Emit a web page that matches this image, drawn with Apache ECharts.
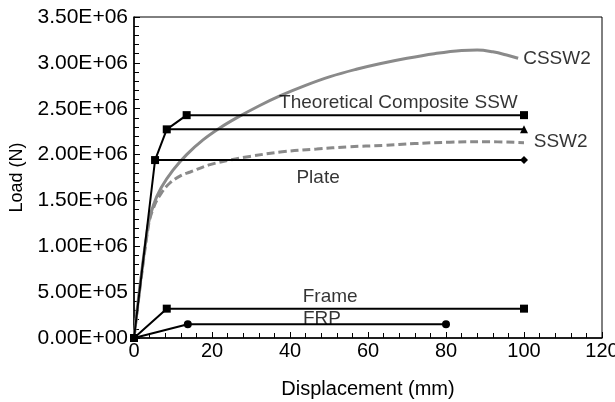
<!DOCTYPE html>
<html>
<head>
<meta charset="utf-8">
<script src="https://cdn.jsdelivr.net/npm/echarts@6/dist/echarts.min.js"></script>
<style>
  html, body { margin: 0; padding: 0; background: #fff; }
  #chart { width: 615px; height: 402px; }
</style>
</head>
<body>
<div id="chart"></div>
<script>
// 曲线数据
const cssw2X = [0, 3.5, 5, 7, 10, 13.5, 17.7, 22, 26.3, 32, 37.4, 44, 50.3, 57, 63, 70, 77, 84, 88, 92, 96, 98.5];
const cssw2Y = [0, 1.2e6, 1.45e6, 1.64e6, 1.83e6, 2.0e6, 2.16e6, 2.29e6, 2.4e6, 2.53e6, 2.64e6, 2.755e6, 2.85e6, 2.93e6, 2.99e6, 3.05e6, 3.1e6, 3.135e6, 3.14e6, 3.12e6, 3.08e6, 3.05e6];
const ssw2X = [0, 3.6, 5, 7, 9.2, 12, 14.4, 19.5, 24.6, 29.7, 38, 46.8, 55, 63.9, 72, 81, 90, 100];
const ssw2Y = [0, 1.2e6, 1.42e6, 1.58e6, 1.69e6, 1.77e6, 1.81e6, 1.89e6, 1.94e6, 1.98e6, 2.03e6, 2.06e6, 2.085e6, 2.1e6, 2.12e6, 2.135e6, 2.14e6, 2.13e6];

// 理论折线
const plateX = [0, 5.4, 100];
const plateY = [0, 1.94e6, 1.94e6];
const midX = [5.4, 8.4, 100];
const midY = [1.94e6, 2.275e6, 2.275e6];
const compositeX = [8.4, 13.5, 100];
const compositeY = [2.275e6, 2.43e6, 2.43e6];
const frameX = [0, 8.4, 100];
const frameY = [0, 3.2e5, 3.2e5];
const frpX = [0, 13.8, 80];
const frpY = [0, 1.5e5, 1.5e5];

// 坐标轴刻度
const xTicks = [0, 20, 40, 60, 80, 100, 120];
const yTicks = [0, 5e5, 1e6, 1.5e6, 2e6, 2.5e6, 3e6, 3.5e6];

// 标注文字
const noteNames = ['CSSW2', 'SSW2', 'Theoretical Composite SSW', 'Plate', 'Frame', 'FRP'];
const noteX = [99.8, 102.5, 67.8, 47.2, 50.3, 48.2];
const noteY = [3.05e6, 2.14e6, 2.57e6, 1.75e6, 4.45e5, 2.1e5];
const noteAlign = ['left', 'left', 'center', 'center', 'center', 'center'];

const FONT = '"Liberation Sans", Arial, sans-serif';

function zip(xs, ys) {
    return xs.map((x, i) => [x, ys[i]]);
}

// 每个点的标记
function withSymbols(xs, ys, symbols) {
    return xs.map((x, i) => ({
        value: [x, ys[i]],
        symbol: symbols[i] || 'none'
    }));
}

function sci(v) {
    if (v === 0) return '0.00E+00';
    const e = Math.floor(Math.log10(v) + 1e-9);
    const m = v / Math.pow(10, e);
    return m.toFixed(2) + 'E+' + String(e).padStart(2, '0');
}

const chart = echarts.init(document.getElementById('chart'));

function blackLine(name, xs, ys, symbols, size) {
    return {
        name: name,
        type: 'line',
        data: withSymbols(xs, ys, symbols),
        symbolSize: size || 8,
        showSymbol: true,
        lineStyle: { color: '#000', width: 2 },
        itemStyle: { color: '#000' },
        z: 5,
        animation: false
    };
}

const option = {
    animation: false,
    backgroundColor: '#fff',
    textStyle: { fontFamily: FONT },
    grid: {
        left: 134, right: 13, top: 17, bottom: 64,
        outerBoundsMode: 'none',
        containLabel: false,
        show: true, borderColor: '#000', borderWidth: 1
    },
    xAxis: {
        type: 'value',
        min: xTicks[0], max: xTicks[xTicks.length - 1], interval: 20,
        name: 'Displacement (mm)',
        nameLocation: 'middle',
        nameGap: 41,
        nameTextStyle: { color: '#000', fontSize: 20, fontFamily: FONT },
        axisLine: { show: true, lineStyle: { color: '#000', width: 1.5 } },
        axisTick: { show: true, inside: true, length: 6, lineStyle: { color: '#000' } },
        minorTick: { show: true, splitNumber: 5, length: 5, lineStyle: { color: '#000' } },
        splitLine: { show: false },
        axisLabel: { color: '#000', fontSize: 20, margin: 3, fontFamily: FONT }
    },
    yAxis: {
        type: 'value',
        min: yTicks[0], max: yTicks[yTicks.length - 1], interval: 5e5,
        name: 'Load (N)',
        nameLocation: 'middle',
        nameGap: 108,
        nameTextStyle: { color: '#000', fontSize: 18, fontFamily: FONT },
        axisLine: { show: true, lineStyle: { color: '#000', width: 1.5 } },
        axisTick: { show: true, inside: true, length: 6, lineStyle: { color: '#000' } },
        minorTick: { show: true, splitNumber: 5, length: 5, lineStyle: { color: '#000' } },
        splitLine: { show: false },
        axisLabel: { color: '#000', fontSize: 21, margin: 6, fontFamily: FONT, formatter: sci }
    },
    series: [
        {
            name: 'CSSW2', type: 'line', data: zip(cssw2X, cssw2Y),
            smooth: 0.4, showSymbol: false, symbol: 'none',
            lineStyle: { color: '#8a8a8a', width: 3 }, z: 3
        },
        {
            name: 'SSW2', type: 'line', data: zip(ssw2X, ssw2Y),
            smooth: 0.4, showSymbol: false, symbol: 'none',
            lineStyle: { color: '#8a8a8a', width: 3, type: [8, 4] }, z: 3
        },
        blackLine('Plate', plateX, plateY, ['rect', 'rect', 'diamond']),
        blackLine('Mid', midX, midY, [null, 'rect', 'triangle']),
        blackLine('Composite', compositeX, compositeY, [null, 'rect', 'rect']),
        blackLine('Frame', frameX, frameY, [null, 'rect', 'rect']),
        blackLine('FRP', frpX, frpY, [null, 'circle', 'circle']),
        {
            name: 'notes', type: 'scatter', symbolSize: 0, z: 10,
            data: noteNames.map((n, i) => ({
                name: n,
                value: [noteX[i], noteY[i]],
                label: {
                    show: true,
                    formatter: n,
                    position: noteAlign[i] === 'left' ? 'right' : 'inside',
                    distance: 0,
                    color: '#000',
                    fontSize: 19,
                    fontFamily: FONT
                }
            }))
        }
    ]
};

chart.setOption(option);

window.addEventListener('resize', function() {
    chart.resize();
});
</script>
</body>
</html>
